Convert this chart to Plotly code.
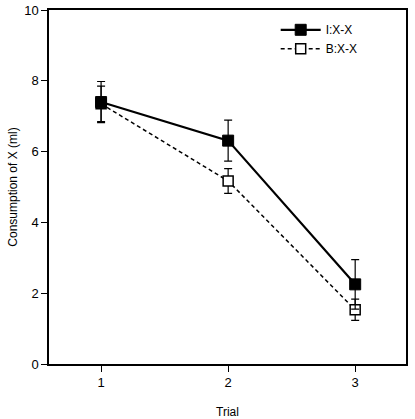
import plotly.graph_objects as go

trials = [1, 2, 3]
i_xx = [7.40, 6.31, 2.25]
i_err = [0.58, 0.58, 0.70]
b_xx = [7.35, 5.17, 1.53]
b_err = [0.50, 0.35, 0.30]

font = "Liberation Sans, Arial, sans-serif"

fig = go.Figure()
fig.add_trace(go.Scatter(
    x=trials, y=b_xx, name="B:X-X", mode="lines+markers",
    line=dict(color="black", width=1.5, dash="4px,3px"),
    marker=dict(symbol="square", size=10, color="white", line=dict(color="black", width=1.5)),
    error_y=dict(type="data", array=b_err, color="black", thickness=1.2, width=4),
))
fig.add_trace(go.Scatter(
    x=trials, y=i_xx, name="I:X-X", mode="lines+markers",
    line=dict(color="black", width=2.2),
    marker=dict(symbol="square", size=11, color="black", line=dict(color="black", width=1)),
    error_y=dict(type="data", array=i_err, color="black", thickness=1.2, width=4),
))

fig.update_layout(
    width=415, height=419,
    margin=dict(l=49, r=9, t=10, b=55, autoexpand=False),
    plot_bgcolor="white", paper_bgcolor="white",
    font=dict(family=font, size=13, color="black"),
    showlegend=True,
    legend=dict(x=0.635, y=0.985, xanchor="left", yanchor="top",
                traceorder="reversed", bgcolor="rgba(0,0,0,0)",
                font=dict(size=12), itemwidth=40, tracegroupgap=0),
    xaxis=dict(range=[0.59, 3.40], tickvals=trials, ticktext=["1", "2", "3"],
               ticks="outside", ticklen=6, tickcolor="black", automargin=False,
               showline=True, linecolor="black", linewidth=1.5, mirror=True,
               showgrid=False, zeroline=False,
               title=dict(text="Trial", standoff=20, font=dict(size=12))),
    yaxis=dict(range=[0, 10], tickvals=[0, 2, 4, 6, 8, 10],
               ticks="outside", ticklen=6, tickcolor="black", automargin=False,
               showline=True, linecolor="black", linewidth=1.5, mirror=True,
               showgrid=False, zeroline=False,
               title=dict(text="Consumption of X (ml)", standoff=4, font=dict(size=12))),
)

fig.write_html("out.html")
